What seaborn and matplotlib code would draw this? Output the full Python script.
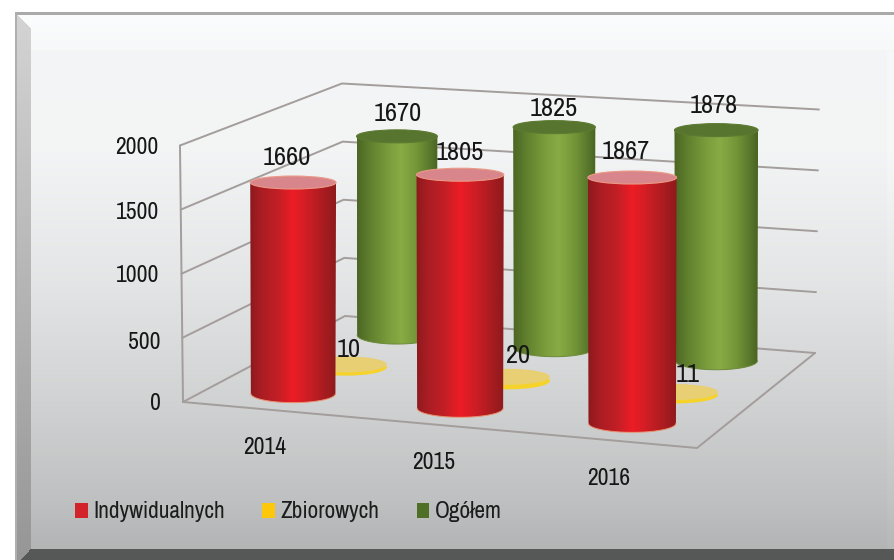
import numpy as np
import matplotlib
matplotlib.use("Agg")
import matplotlib.pyplot as plt
import seaborn as sns
from matplotlib.colors import LinearSegmentedColormap as LSC
from matplotlib.patches import Ellipse, PathPatch, Patch
from matplotlib.path import Path

years = ["2014", "2015", "2016"]
individual = [1660, 1805, 1867]
collective = [10, 20, 11]
total = [1670, 1825, 1878]
series_names = ["Indywidualnych", "Zbiorowych", "Ogółem"]
yticks = [0, 500, 1000, 1500, 2000]

sns.set_theme(style="white")
plt.rcParams["font.family"] = ["Archivo Narrow", "Liberation Sans"]
palette = sns.color_palette(["#d2232a", "#fdc70c", "#4f6f26"])

W, H = 894, 560
fig = plt.figure(figsize=(W / 100, H / 100), dpi=100)
ax = fig.add_axes([0, 0, 1, 1])

# ---------- background panel ----------
ys, xs = np.mgrid[0:H, 0:W]
ramp = np.interp(np.arange(H), [13, 49, 50, 150, 280, 400, 500, 549], [252, 248, 245, 244, 229, 210, 192, 180])
bg = np.repeat(ramp[:, None], W, axis=1)
bg = np.dstack([bg - 1, bg, bg + 0.5])
right = (xs >= 887) & (ys > 50) & (ys < 549)
bg[right] = np.minimum(bg[right] + 3, 255)
left = (xs >= 16) & (xs < 31) & (ys >= 13) & ((xs - 16) < (ys - 13))
left_ramp = np.interp(ys, [13, 560], [212, 150])
for c in range(3):
    bg[..., c][left] = left_ramp[left]
band = (ys >= 549) & (xs - 20 >= (560 - ys) * 0.9)
bg[band] = [86, 87, 87]
bg[(ys < 13) | (xs < 16)] = 255
bg[(ys >= 12) & (ys <= 14) & (xs >= 16)] = 170
bg[(xs >= 15) & (xs <= 16) & (ys >= 12)] = 175
ax.imshow(bg.astype(np.uint8), extent=(0, W, H, 0), aspect="auto", zorder=0, interpolation="bilinear")

# ---------- 3D scale: category fraction u, depth d, value z -> pixels ----------
def floor_xy(u, d):
    return (183 + 514 * u + d * (162 - 44 * u), 402 + 46 * u + d * (-86 - 9 * u))

def zscale(u, d):
    return (256.5 + 14 * u + d * (-24 - 3 * u)) / 2000

def project(u, d, z=0.0):
    x, y = floor_xy(u, d)
    return x + z / 2000 * (-3 + 7 * u), y - z * zscale(u, d)

# ---------- box lines ----------
line_kw = dict(color="#a39d9b", lw=1.4, zorder=1, solid_joinstyle="miter")
for tick in yticks:
    pts = [project(0, 0, tick), project(0, 1, tick), project(1, 1, tick)]
    ax.plot(*zip(*pts), **line_kw)
ax.plot(*zip(project(0, 0, 0), project(0, 0, 2000)), **line_kw)
ax.plot(*zip(project(0, 0, 0), project(1, 0, 0), project(1, 1, 0)), **line_kw)

for tick, offset in zip(yticks, [2, 5, 2, 3, 2]):
    x, y = project(0, 0, tick)
    ax.text(x - 22, y + offset, str(tick), ha="right", va="center", fontsize=17, color="#161616", zorder=8)

# ---------- cylinders ----------
red_cm = LSC.from_list("r", [(0, "#8c1a1e"), (.12, "#a81d22"), (.32, "#c21f26"), (.5, "#ed1c24"), (.62, "#d81e26"), (.88, "#a51c20"), (1, "#8f1a1c")])
green_cm = LSC.from_list("g", [(0, "#4c6623"), (.15, "#5f7f2e"), (.4, "#7c9e3c"), (.55, "#89ab45"), (.75, "#739537"), (.93, "#55732a"), (1, "#4a6322")])
TH = np.linspace(0, np.pi, 60)

def half_width(u, d):
    return 0.085 * (514 - 44 * d) * (1 + 0.05 * (u - 0.5))

def cylinder(u, d, value, cmap, top_color, top_edge, rim, z):
    cx, yb = project(u, d, 0)
    yt = yb - value * zscale(u, d)
    wb = half_width(u, d)
    wt = wb * 1.015
    hb, ht = 9.0, 6.5
    vx = np.r_[cx - wt, cx - wb * np.cos(TH), cx + wt, cx - wt]
    vy = np.r_[yt, yb + hb * np.sin(TH), yt, yt]
    clip = PathPatch(Path(np.c_[vx, vy]), fc="none", ec="none", transform=ax.transData)
    ax.add_patch(clip)
    im = ax.imshow(np.linspace(0, 1, 128)[None, :], extent=(cx - wt, cx + wt, yb + hb, yt), cmap=cmap, aspect="auto", zorder=z, interpolation="bilinear")
    im.set_clip_path(clip)
    ax.plot(cx - wb * np.cos(TH), yb + hb * np.sin(TH), color=rim, lw=0.7, zorder=z + 0.1)
    ax.add_patch(Ellipse((cx, yt), 2 * wt, 2 * ht, fc=top_color, ec=top_edge, lw=0.8, zorder=z + 0.2))

us = [0.16, 0.49, 0.83]
for u, v in zip(us, total):
    cylinder(u, 0.85, v, green_cm, "#587530", "#5d7a31", "#6d8a3a", 3)

for u, v in zip(us, collective):
    cx, yb = project(u, 0.5, 0)
    cx += 3
    w = half_width(u, 0.5)
    ax.add_patch(Ellipse((cx, yb + 1.5), 2 * w, 17, fc="#f5d32a", ec="none", zorder=4))
    ax.add_patch(Ellipse((cx, yb - v * zscale(u, .5)), 2 * w, 16, fc="#e8cf73", ec="none", zorder=4.1))

for u, v in zip(us, individual):
    cylinder(u, 0.18, v, red_cm, "#d8868b", "#ea9a86", "#e8906e", 5)

# ---------- data labels ----------
label_font = dict(fontsize=19, color="#161616", ha="center", va="center", zorder=9)
for u, v, off in zip(us, individual, [(-5, -25), (-1, -22), (-9, -26)]):
    x, y = project(u, 0.18, v)
    ax.text(x + off[0], y + off[1], str(v), **label_font)
for u, v, off in zip(us, total, [(2, -23), (-1, -19), (-5, -25)]):
    x, y = project(u, 0.85, v)
    ax.text(x + off[0], y + off[1], str(v), **label_font)
for u, v, off in zip(us, collective, [(6, -15), (13, -21), (15, -18)]):
    x, y = project(u, 0.5, v)
    ax.text(x + off[0], y + off[1], str(v), **label_font)

for u, year in zip(us, years):
    x, y = project(u, 0, 0)
    ax.text(x - 1, y + 38, year, fontsize=17, color="#161616", ha="center", va="center", zorder=8)

# ---------- legend ----------
handles = [Patch(fc=c, ec="none", label=n) for c, n in zip(palette, series_names)]
leg = ax.legend(handles=handles, ncol=3, loc="center left", bbox_to_anchor=(75, 512), bbox_transform=ax.transData,
                frameon=False, fontsize=16.8, handlelength=0.54, handleheight=0.64, handletextpad=0.26,
                columnspacing=1.58, borderpad=0, borderaxespad=0, labelcolor="#1c1c1c")
leg.set_zorder(9)

ax.set_xlim(0, W)
ax.set_ylim(H, 0)
ax.axis("off")
fig.savefig("out.png", dpi=100)
